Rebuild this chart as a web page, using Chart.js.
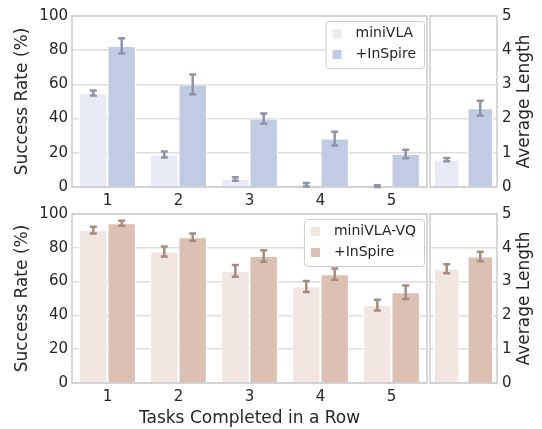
<!DOCTYPE html>
<html>
<head>
<meta charset="utf-8">
<script src="https://cdn.jsdelivr.net/npm/chart.js"></script>
<style>
  html, body { margin: 0; padding: 0; background: #ffffff; }
  #wrap { position: relative; width: 542px; height: 429px; }
  #wrap canvas { position: absolute; left: 0; top: 0; }
</style>
</head>
<body>
<div id="wrap">
  <canvas id="topMain" width="542" height="429"></canvas>
  <canvas id="topSide" width="542" height="429"></canvas>
  <canvas id="botMain" width="542" height="429"></canvas>
  <canvas id="botSide" width="542" height="429"></canvas>
</div>
<script>
// categories
const tasks = ['1', '2', '3', '4', '5'];
const rateTicks = [0, 20, 40, 60, 80, 100];
const lengthTicks = [0, 1, 2, 3, 4, 5];

// top row: miniVLA vs +InSpire
const miniVLA = [55, 19, 4.7, 1.3, 0.5];
const miniVLAErr = [1.5, 1.7, 1, 1, 0.5];
const inspireA = [82.5, 60, 40, 28.3, 19.3];
const inspireAErr = [4.5, 5.8, 3, 4, 2.5];
const avgLenA = [0.8, 2.3];
const avgLenAErr = [0.05, 0.22];

// bottom row: miniVLA-VQ vs +InSpire
const miniVQ = [90.5, 77.8, 66.3, 57.1, 46.1];
const miniVQErr = [2, 3, 3.5, 3.2, 3.2];
const inspireB = [94.5, 86.2, 75.2, 64.4, 53.7];
const inspireBErr = [1.5, 2.2, 3.4, 3.3, 4];
const avgLenB = [3.38, 3.74];
const avgLenBErr = [0.13, 0.14];

const FONT = "'DejaVu Sans', sans-serif";
const TXT = '#262626';
const GRID = '#dedede';
const EDGE = '#cccccc';

Chart.defaults.font.family = FONT;
Chart.defaults.color = TXT;

// frame around the plot area + error bars on top of the bars
const extras = {
  id: 'extras',
  afterDatasetsDraw(chart) {
    const ctx = chart.ctx;
    const a = chart.chartArea;
    ctx.save();
    ctx.strokeStyle = EDGE;
    ctx.lineWidth = 1.5;
    ctx.strokeRect(a.left, a.top, a.right - a.left, a.bottom - a.top);

    const yScale = chart.scales.y;
    chart.data.datasets.forEach((ds, di) => {
      if (!ds.errors) return;
      const meta = chart.getDatasetMeta(di);
      ctx.strokeStyle = ds.errColor;
      ctx.lineWidth = 2.5;
      meta.data.forEach((bar, i) => {
        const x = bar.x;
        const v = ds.data[i], e = ds.errors[i];
        const yHi = yScale.getPixelForValue(v + e);
        const yLo = yScale.getPixelForValue(Math.max(v - e, 0));
        ctx.beginPath();
        ctx.moveTo(x, yHi); ctx.lineTo(x, yLo);
        ctx.moveTo(x - 3.5, yHi); ctx.lineTo(x + 3.5, yHi);
        ctx.moveTo(x - 3.5, yLo); ctx.lineTo(x + 3.5, yLo);
        ctx.stroke();
      });
    });
    ctx.restore();
  },
  afterDraw(chart, args, opts) {
    const ctx = chart.ctx;
    const a = chart.chartArea;
    if (opts.rightTitle) {
      // right-hand axis title, read bottom to top like the left one
      ctx.save();
      ctx.font = '17px ' + FONT;
      ctx.fillStyle = TXT;
      ctx.textAlign = 'center';
      ctx.textBaseline = 'middle';
      ctx.translate(525, (a.top + a.bottom) / 2);
      ctx.rotate(-Math.PI / 2);
      ctx.fillText(opts.rightTitle, 0, 0);
      ctx.restore();
    }
    if (!opts.legend) return;
    ctx.save();
    ctx.font = '14px ' + FONT;
    const labels = chart.data.datasets.map(d => d.label);
    const tw = Math.max(...labels.map(l => ctx.measureText(l).width));
    const w = 30 + tw + 8;
    const h = 47;
    const x0 = a.right - 3 - w;
    const y0 = a.top + 5;
    ctx.fillStyle = 'rgba(255,255,255,0.85)';
    ctx.strokeStyle = EDGE;
    ctx.lineWidth = 1;
    ctx.beginPath();
    ctx.roundRect(x0 + 0.5, y0 + 0.5, w, h, 3);
    ctx.fill();
    ctx.stroke();
    chart.data.datasets.forEach((ds, i) => {
      const cy = y0 + 12 + i * 21;
      ctx.fillStyle = ds.backgroundColor;
      ctx.fillRect(x0 + 7, cy - 4, 9, 9);
      ctx.fillStyle = TXT;
      ctx.textBaseline = 'middle';
      ctx.fillText(ds.label, x0 + 30, cy);
    });
    ctx.restore();
  }
};

function mainChart(id, top, bottom, sets, xTitle) {
  const xHeight = xTitle ? 46 : 20;
  return new Chart(document.getElementById(id), {
    type: 'bar',
    data: {
      labels: tasks,
      datasets: sets.map(s => ({
        label: s.label, data: s.data, errors: s.errors, errColor: s.errColor,
        backgroundColor: s.color, borderColor: '#ffffff', borderWidth: 1,
        categoryPercentage: 0.8, barPercentage: 1.0
      }))
    },
    options: {
      responsive: false, animation: false, devicePixelRatio: 1,
      layout: { padding: { left: 0, top: top, right: 115, bottom: 429 - bottom - xHeight } },
      plugins: { legend: { display: false }, tooltip: { enabled: false }, extras: { legend: true } },
      scales: {
        x: {
          afterFit: s => { s.height = xHeight; },
          grid: { display: false, drawTicks: false },
          border: { display: false },
          ticks: { font: { size: 15 }, padding: 5, color: TXT },
          title: { display: !!xTitle, text: xTitle, font: { size: 17 }, color: TXT, padding: { top: 0, bottom: 0 } }
        },
        y: {
          min: 0, max: 100,
          afterFit: s => { s.width = 72; },
          afterBuildTicks: s => { s.ticks = rateTicks.map(v => ({ value: v })); },
          grid: { color: GRID, lineWidth: 1.5, drawTicks: false },
          border: { display: false },
          ticks: { font: { size: 15 }, padding: 4, color: TXT },
          title: { display: true, text: 'Success Rate (%)', font: { size: 17 }, color: TXT, padding: { top: 12, bottom: 0 } }
        }
      }
    },
    plugins: [extras]
  });
}

function sideChart(id, top, bottom, sets) {
  return new Chart(document.getElementById(id), {
    type: 'bar',
    data: {
      labels: [''],
      datasets: sets.map(s => ({
        label: s.label, data: [s.value], errors: [s.error], errColor: s.errColor,
        backgroundColor: s.color, borderColor: '#ffffff', borderWidth: 1,
        categoryPercentage: 1.0, barPercentage: 0.76
      }))
    },
    options: {
      responsive: false, animation: false, devicePixelRatio: 1,
      layout: { padding: { left: 430, top: top, right: 0, bottom: 429 - bottom } },
      plugins: { legend: { display: false }, tooltip: { enabled: false }, extras: { legend: false, rightTitle: 'Average Length' } },
      scales: {
        x: { display: false },
        y: {
          position: 'right', min: 0, max: 5,
          afterFit: s => { s.width = 45; },
          afterBuildTicks: s => { s.ticks = lengthTicks.map(v => ({ value: v })); },
          grid: { color: GRID, lineWidth: 1.5, drawTicks: false },
          border: { display: false },
          ticks: { font: { size: 15 }, padding: 5, color: TXT },
          title: { display: false }
        }
      }
    },
    plugins: [extras]
  });
}

mainChart('topMain', 16, 187, [
  { label: 'miniVLA', data: miniVLA, errors: miniVLAErr, color: '#e8ebf6', errColor: '#8e95a8' },
  { label: '+InSpire', data: inspireA, errors: inspireAErr, color: '#c1cbe4', errColor: '#8e95a8' }
], null);

sideChart('topSide', 16, 187, [
  { label: 'miniVLA', value: avgLenA[0], error: avgLenAErr[0], color: '#e8ebf6', errColor: '#8e95a8' },
  { label: '+InSpire', value: avgLenA[1], error: avgLenAErr[1], color: '#c1cbe4', errColor: '#8e95a8' }
]);

mainChart('botMain', 214, 383, [
  { label: 'miniVLA-VQ', data: miniVQ, errors: miniVQErr, color: '#f2e6e2', errColor: '#a88a80' },
  { label: '+InSpire', data: inspireB, errors: inspireBErr, color: '#dcc0b4', errColor: '#a88a80' }
], 'Tasks Completed in a Row');

sideChart('botSide', 214, 383, [
  { label: 'miniVLA-VQ', value: avgLenB[0], error: avgLenBErr[0], color: '#f2e6e2', errColor: '#a88a80' },
  { label: '+InSpire', value: avgLenB[1], error: avgLenBErr[1], color: '#dcc0b4', errColor: '#a88a80' }
]);
</script>
</body>
</html>
